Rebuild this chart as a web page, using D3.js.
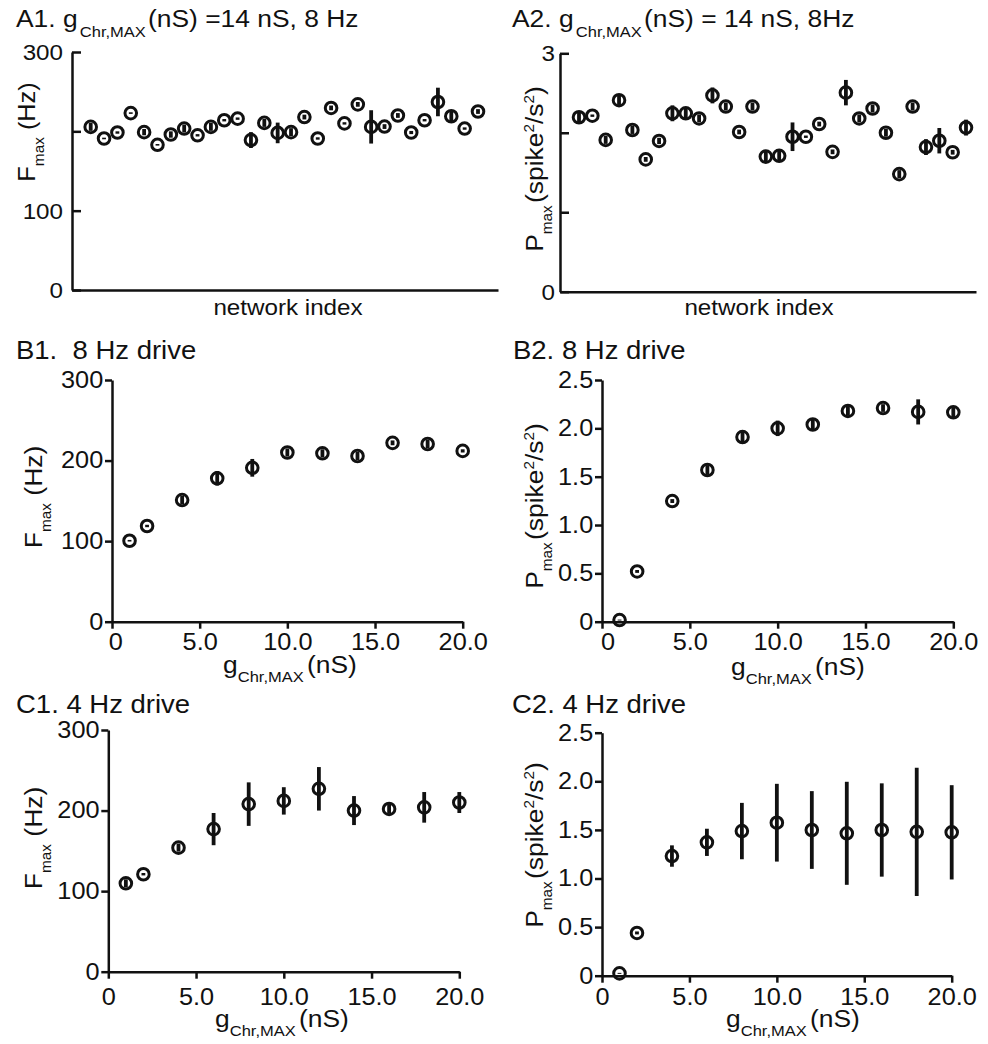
<!DOCTYPE html>
<html><head><meta charset="utf-8">
<script src="https://cdn.jsdelivr.net/npm/d3@7"></script>
<style>
body{margin:0;background:#fff}
svg{font-family:"Liberation Sans",Arial,Helvetica,sans-serif}
text{white-space:pre}
</style>
</head><body>
<svg id="c" width="988" height="1044"></svg>
<script>
// ---------------- data ----------------
const networkIndex = [1,2,3,4,5,6,7,8,9,10,11,12,13,14,15,16,17,18,19,20,21,22,23,24,25,26,27,28,29,30];
const A1_Fmax = [205.6,191,198.5,223,199,183,196,203.5,195,205.6,214,216,189,210.6,198,199,218,191,229.5,210,234,205.6,206,220,198.5,214,237,219,203.5,225];
const A1_err  = [5,1,1.5,1,4,1,4,5,1.5,5,1.5,1.5,10,5,13,5,3,1.5,3,1.5,3,21,3,3,2,1.5,18,6,1.5,3];
const A2_Pmax = [2.195,2.215,1.91,2.41,2.035,1.665,1.897,2.245,2.245,2.18,2.47,2.33,2.01,2.33,1.70,1.71,1.95,1.95,2.11,1.76,2.505,2.18,2.305,2.00,1.48,2.33,1.82,1.90,1.755,2.065];
const A2_err  = [0.06,0.015,0.05,0.06,0.05,0.03,0.04,0.1,0.06,0.05,0.1,0.05,0.03,0.05,0.06,0.06,0.18,0.015,0.03,0.03,0.16,0.05,0.05,0.05,0.05,0.05,0.1,0.16,0.03,0.1];

const gChr = [1,2,4,6,8,10,12,14,16,18,20];
const B1_Fmax = [100.5,118.8,151,178,191,210,209,205.7,222,220.6,212];
const B1_err  = [1,1.5,5,9,11,5,5,5,3,5,2];
const B2_Pmax = [0.017,0.52,1.248,1.569,1.91,2.0,2.04,2.18,2.21,2.17,2.166];
const B2_err  = [0.005,0.015,0.02,0.05,0.07,0.08,0.05,0.05,0.04,0.13,0.05];
const C1_Fmax = [109.7,121,154,177,208,212,227,200,202,204,210];
const C1_err  = [5,1.5,5,20,27,17,27,18,6,19,13];
const C2_Pmax = [0.024,0.44,1.231,1.372,1.488,1.574,1.499,1.465,1.499,1.48,1.475];
const C2_err  = [0.005,0.015,0.11,0.14,0.29,0.40,0.40,0.53,0.48,0.66,0.485];

const xTicksG = [0,5,10,15,20];
const xTickLabelsG = ["0","5.0","10.0","15.0","20.0"];
const A1_yTicks = [0,100,200,300];
const A1_yLabels = [0,100,300];
const A2_yTicks = [0,1,2,3];
const A2_yLabels = [0,3];
const F_yTicks = [0,100,200,300];
const P_yTicks = [0,0.5,1.0,1.5,2.0,2.5];

// ---------------- helpers ----------------
const svg = d3.select('#c');
const INK = '#111';
const K = 1.1; // horizontal glyph stretch

function addText(x, y, parts, o = {}) {
  const size = o.size || 23;
  const g = svg.append('g').attr('transform',
    `translate(${x},${y})` + (o.rot ? ` rotate(${o.rot})` : '') + ` scale(${K},1)`);
  const t = g.append('text').attr('text-anchor', o.anchor || 'start')
    .attr('font-size', size).attr('fill', INK);
  (typeof parts === 'string' ? [{t: parts}] : parts).forEach(p => {
    const ts = t.append('tspan').text(p.t).attr('font-size', p.s || size);
    if (p.dy) ts.attr('dy', p.dy);
    if (p.dx) ts.attr('dx', p.dx);
  });
  return t;
}

function styleAxis(sel, fs) {
  sel.attr('font-family', null).attr('font-size', null).style('color', INK);
  sel.select('.domain').attr('stroke-width', 2.5);
  sel.selectAll('.tick line').attr('stroke-width', 2.5);
  sel.selectAll('.tick text').attr('font-size', fs).attr('fill', INK)
    .attr('transform', `scale(${K},1)`);
}

function points(p, xs, vs, es) {
  const data = xs.map((x, i) => ({x, v: vs[i], e: es[i]}));
  const g = svg.append('g');
  const pt = g.selectAll('g').data(data).join('g');
  pt.append('line')
    .attr('x1', d => p.x(d.x)).attr('x2', d => p.x(d.x))
    .attr('y1', d => p.y(d.v - d.e)).attr('y2', d => p.y(d.v + d.e))
    .attr('stroke', INK).attr('stroke-width', 3.8);
  pt.append('circle')
    .attr('cx', d => p.x(d.x)).attr('cy', d => p.y(d.v))
    .attr('r', 5.8).attr('fill', 'none').attr('stroke', INK).attr('stroke-width', 3);
}

// ---------- A panels (network index) ----------
function panelA(p) {
  const gy = svg.append('g').attr('transform', `translate(${p.axisX},0)`)
    .call(d3.axisRight(p.y).tickValues(p.yTicks).tickSize(9).tickSizeOuter(0).tickFormat(''));
  styleAxis(gy, 22);
  const xa = d3.scaleLinear().domain([0, 1]).range([p.axisX, p.axisEnd]);
  const gx = svg.append('g').attr('transform', `translate(0,${p.y(0)})`)
    .call(d3.axisBottom(xa).tickValues([]).tickSizeOuter(0));
  styleAxis(gx, 22);
  p.yLabels.forEach(v => addText(p.labelEnd, p.y(v) + 8, String(v), {anchor: 'end', size: 22}));
  addText(p.xLabelX, 315, 'network index', {anchor: 'middle', size: 22});
}

// ---------- B/C panels (gChr) ----------
function panelG(p) {
  const gy = svg.append('g').attr('transform', `translate(${p.x(0)},0)`)
    .call(d3.axisLeft(p.y).tickValues(p.yTicks).tickSize(7).tickSizeOuter(0)
      .tickPadding(1).tickFormat(p.yFmt));
  styleAxis(gy, 23);
  const gx = svg.append('g').attr('transform', `translate(0,${p.y(0)})`)
    .call(d3.axisBottom(p.x).tickValues(xTicksG).tickSize(7).tickSizeOuter(0)
      .tickPadding(p.xPad).tickFormat((d, i) => xTickLabelsG[i]));
  styleAxis(gx, 23);
  gx.selectAll('.tick text').filter(d => d === 0).attr('x', p.zeroShift || 0);
}

// ---------------- A1 ----------------
const A1 = {
  x: d3.scaleLinear().domain([1, 30]).range([90.7, 478]),
  y: d3.scaleLinear().domain([0, 300]).range([290, 52]),
  axisX: 72, axisEnd: 498, yTicks: A1_yTicks, yLabels: A1_yLabels, labelEnd: 63, xLabelX: 288
};
panelA(A1);
points(A1, networkIndex, A1_Fmax, A1_err);
addText(16, 27, [{t: 'A1. g'}, {t: 'Chr,MAX', s: 15, dy: 10, dx: 2}, {t: '(nS) =14 nS, 8 Hz', dy: -10, dx: 2}], {size: 24});
addText(35, 132, [{t: 'F'}, {t: 'max', s: 14, dy: 9}, {t: ' (Hz)', dy: -9}], {rot: -90, anchor: 'middle', size: 23});

// ---------------- A2 ----------------
const A2 = {
  x: d3.scaleLinear().domain([1, 30]).range([579, 966]),
  y: d3.scaleLinear().domain([0, 3]).range([291.7, 53.3]),
  axisX: 560, axisEnd: 976, yTicks: A2_yTicks, yLabels: A2_yLabels, labelEnd: 555, xLabelX: 759
};
panelA(A2);
points(A2, networkIndex, A2_Pmax, A2_err);
addText(512, 27, [{t: 'A2. g'}, {t: 'Chr,MAX', s: 15, dy: 10, dx: 2}, {t: '(nS) = 14 nS, 8Hz', dy: -10, dx: 2}], {size: 24});
const Plabel = [{t: 'P'}, {t: 'max', s: 14, dy: 9}, {t: '(spike', dy: -9, dx: 2}, {t: '2', s: 14, dy: -9}, {t: '/s', dy: 9}, {t: '2', s: 14, dy: -9}, {t: ')', dy: 9}];
addText(543, 169, Plabel, {rot: -90, anchor: 'middle', size: 24});

// ---------------- B1 ----------------
const fmtF = d3.format('d');
const fmtP = d => d === 0 ? '0' : d3.format('.1f')(d);
const B1 = {
  x: d3.scaleLinear().domain([0, 20]).range([112, 462.7]),
  y: d3.scaleLinear().domain([0, 300]).range([621.7, 380]),
  yTicks: F_yTicks, yFmt: fmtF, xPad: 5, zeroShift: 3
};
panelG(B1);
points(B1, gChr, B1_Fmax, B1_err);
addText(16, 359, 'B1.  8 Hz drive', {size: 25});
addText(42, 497, [{t: 'F'}, {t: 'max', s: 14, dy: 9}, {t: ' (Hz)', dy: -9}], {rot: -90, anchor: 'middle', size: 24});
addText(290, 673, [{t: 'g'}, {t: 'Chr,MAX', s: 15, dy: 9}, {t: '(nS)', dy: -9, dx: 3}], {anchor: 'middle', size: 24});

// ---------------- B2 ----------------
const B2 = {
  x: d3.scaleLinear().domain([0, 20]).range([602, 953.3]),
  y: d3.scaleLinear().domain([0, 2.5]).range([621.7, 380]),
  yTicks: P_yTicks, yFmt: fmtP, xPad: 5, zeroShift: 5
};
panelG(B2);
points(B2, gChr, B2_Pmax, B2_err);
addText(513, 359, 'B2. 8 Hz drive', {size: 25});
addText(543, 506, Plabel, {rot: -90, anchor: 'middle', size: 24});
addText(798, 675, [{t: 'g'}, {t: 'Chr,MAX', s: 15, dy: 9}, {t: '(nS)', dy: -9, dx: 3}], {anchor: 'middle', size: 24});

// ---------------- C1 ----------------
const C1 = {
  x: d3.scaleLinear().domain([0, 20]).range([108.3, 459.3]),
  y: d3.scaleLinear().domain([0, 300]).range([971.7, 730]),
  yTicks: F_yTicks, yFmt: fmtF, xPad: 10
};
panelG(C1);
points(C1, gChr, C1_Fmax, C1_err);
addText(16, 713, 'C1. 4 Hz drive', {size: 25});
addText(42, 838, [{t: 'F'}, {t: 'max', s: 14, dy: 9}, {t: ' (Hz)', dy: -9}], {rot: -90, anchor: 'middle', size: 24});
addText(282, 1027, [{t: 'g'}, {t: 'Chr,MAX', s: 15, dy: 9}, {t: '(nS)', dy: -9, dx: 3}], {anchor: 'middle', size: 24});

// ---------------- C2 ----------------
const C2 = {
  x: d3.scaleLinear().domain([0, 20]).range([602, 951.7]),
  y: d3.scaleLinear().domain([0, 2.5]).range([975.7, 732.7]),
  yTicks: P_yTicks, yFmt: fmtP, xPad: 6
};
panelG(C2);
points(C2, gChr, C2_Pmax, C2_err);
addText(512, 713, 'C2. 4 Hz drive', {size: 25});
addText(543, 845, Plabel, {rot: -90, anchor: 'middle', size: 24});
addText(793, 1027, [{t: 'g'}, {t: 'Chr,MAX', s: 15, dy: 9}, {t: '(nS)', dy: -9, dx: 3}], {anchor: 'middle', size: 24});
</script>
</body></html>
